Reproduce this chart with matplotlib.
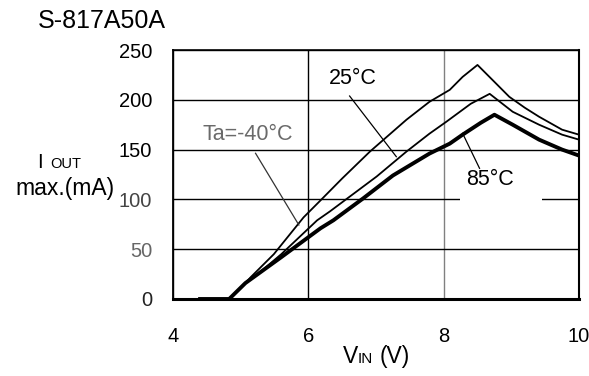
import matplotlib
matplotlib.use("Agg")
import matplotlib.pyplot as plt
from matplotlib.patches import Rectangle

plt.rcParams['font.family'] = ['Liberation Sans', 'DejaVu Sans']

# ---- data ----
vin_m40 = [4.40, 4.83, 5.07, 5.15, 5.49, 5.93, 6.18, 6.50, 6.91, 7.45, 7.79, 8.09, 8.28, 8.50, 8.75, 8.97, 9.20, 9.41, 9.75, 10.0]
iout_m40 = [0, 0, 16, 22, 45, 82, 99, 121, 148, 180, 198, 210, 223, 235, 218, 203, 192, 183, 170, 165]

vin_25 = [4.40, 4.83, 5.07, 5.20, 5.60, 6.13, 6.32, 7.01, 7.45, 7.79, 8.04, 8.40, 8.68, 9.02, 9.41, 9.75, 10.0]
iout_25 = [0, 0, 16, 22, 45, 79, 88, 123, 148, 166, 178, 196, 206, 188, 175, 165, 160]

vin_85 = [4.40, 4.83, 5.07, 5.60, 6.18, 6.37, 6.81, 7.25, 7.79, 8.09, 8.28, 8.55, 8.75, 9.02, 9.41, 9.75, 10.0]
iout_85 = [0, 0, 16, 42, 71, 79, 101, 124, 146, 156, 165, 177, 185, 175, 160, 150, 144]

x_ticks = [4, 6, 8, 10]
y_ticks = [0, 50, 100, 150, 200, 250]
title = "S-817A50A"
labels = ["Ta=-40°C", "25°C", "85°C"]

W, H = 589, 376
fig = plt.figure(figsize=(W / 100, H / 100), dpi=100)
ax = fig.add_axes([173 / W, 1 - 299 / H, (579 - 173) / W, (299 - 50) / H])

ax.set_xlim(4, 10)
ax.set_ylim(0, 250)
ax.set_xticks(x_ticks)
ax.set_yticks(y_ticks)
ax.set_xticklabels([str(t) for t in x_ticks])
ax.set_yticklabels([str(t) for t in y_ticks])
ax.tick_params(length=0, labelsize=14.5)
ax.tick_params(axis='y', pad=15)
ax.tick_params(axis='x', pad=20)
for lbl, c in zip(ax.get_yticklabels(), ['#222222', '#666666', '#444444', 'black', 'black', 'black']):
    lbl.set_color(c)

ax.grid(True, color='black', lw=1.0)
ax.set_axisbelow(True)
gl = ax.get_xgridlines()
gl[2].set_color('#808080')

for side, lw in [('top', 1.2), ('right', 1.5), ('left', 1.3), ('bottom', 2.2)]:
    ax.spines[side].set_linewidth(lw)
    ax.spines[side].set_color('black')

# white box behind 85°C label
ax.add_patch(Rectangle((8.24, 95), 1.22, 38, facecolor='white', edgecolor='none', zorder=1.5))

ax.plot(vin_m40, iout_m40, color='black', lw=1.3, zorder=3)
ax.plot(vin_25, iout_25, color='black', lw=1.3, zorder=3)
ax.plot(vin_85, iout_85, color='black', lw=2.8, zorder=3)

# labels and leader lines
ax.text(5.10, 164.7, labels[0], ha='center', va='center', fontsize=15.5, color='#6a6a6a', zorder=4)
ax.plot([5.22, 5.86], [146.3, 74.3], color='#333333', lw=0.9, zorder=4)
ax.text(6.66, 221.4, labels[1], ha='center', va='center', fontsize=15.5, color='black', zorder=4)
ax.plot([6.61, 7.30], [203.8, 142.9], color='black', lw=0.9, zorder=4)
ax.text(8.68, 119.5, labels[2], ha='center', va='center', fontsize=15.5, color='black', zorder=4)
ax.plot([8.53, 8.28], [131.2, 166.3], color='black', lw=0.9, zorder=4)


def ftext(x, y, s, **kw):
    fig.text(x / W, 1 - y / H, s, va='baseline', ha='left', **kw)


ftext(38, 28, title, fontsize=18)
ftext(37, 168, "I", fontsize=14.5)
ftext(50, 168, "OUT", fontsize=10.5)
ftext(15, 195, "max.(mA)", fontsize=16.5)
ftext(343, 363, "V", fontsize=16.5)
ftext(358, 363, "IN", fontsize=11)
ftext(380, 363, "(V)", fontsize=16.5)

fig.savefig("out.png", dpi=100)
